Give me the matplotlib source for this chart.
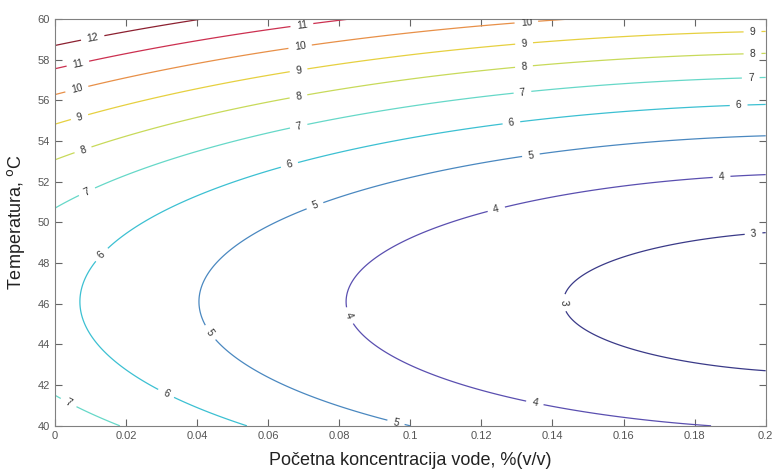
import numpy as np
import matplotlib
matplotlib.use("Agg")
import matplotlib.pyplot as plt

# Response-surface model:
# f(x, T) = c0 + c1*x + c2*x^2 + cT*(T - T0)^2
coef_x = [6.2305, -33.46, 76.06]
coef_T = 0.0364
T_center = 46.1

levels = [3, 4, 5, 6, 7, 8, 9, 10, 11, 12]
level_colors = ['#3a3a88', '#5a4fb0', '#4a88c0', '#3cc0d2', '#66d8c8',
                '#c8da5a', '#e6d040', '#e89048', '#cc3050', '#8c2030']

x_range = [0.0, 0.2]
T_range = [40.0, 60.0]
x_ticks = [0, 0.02, 0.04, 0.06, 0.08, 0.1, 0.12, 0.14, 0.16, 0.18, 0.2]
x_ticklabels = ['0', '0.02', '0.04', '0.06', '0.08', '0.1', '0.12', '0.14', '0.16', '0.18', '0.2']
T_ticks = [40, 42, 44, 46, 48, 50, 52, 54, 56, 58, 60]

label_pos = [(0.0107, 58.97), (0.0065, 57.74), (0.0062, 56.5), (0.007, 55.1),
             (0.008, 53.5), (0.009, 51.5), (0.0135, 48.35), (0.031, 41.5),
             (0.0037, 41.1), (0.043, 44.5), (0.096, 40.2), (0.082, 45.35),
             (0.1426, 46.04), (0.1966, 49.4), (0.135, 41.1), (0.1876, 52.2),
             (0.1243, 50.56), (0.0734, 50.7), (0.134, 53.2), (0.066, 52.8),
             (0.1285, 54.8), (0.1924, 55.7), (0.0686, 54.7), (0.1316, 56.3),
             (0.1958, 57.05), (0.0686, 56.1), (0.132, 57.6), (0.1963, 58.2),
             (0.0686, 57.4), (0.132, 58.8), (0.1963, 59.3), (0.069, 58.6),
             (0.1327, 59.7), (0.0695, 59.65)]

plt.rcParams['font.family'] = ['Liberation Sans', 'DejaVu Sans']

xs = np.linspace(x_range[0], x_range[1], 400)
Ts = np.linspace(T_range[0], T_range[1], 400)
X, T = np.meshgrid(xs, Ts)
Z = coef_x[0] + coef_x[1] * X + coef_x[2] * X**2 + coef_T * (T - T_center)**2

fig = plt.figure(figsize=(7.75, 4.7), dpi=100)
ax = fig.add_axes([0.071, 0.094, 0.917, 0.866])
cs = ax.contour(X, T, Z, levels=levels, colors=level_colors, linewidths=0.9)
ax.clabel(cs, fmt='%d', fontsize=7.5, colors='#333333', inline=True,
          inline_spacing=6, manual=label_pos)

ax.set_xlim(x_range)
ax.set_ylim(T_range)
ax.set_xticks(x_ticks)
ax.set_xticklabels(x_ticklabels)
ax.set_yticks(T_ticks)
ax.tick_params(direction='in', top=True, right=True, labelsize=8,
               labelcolor='#555555', color='#666666', length=5, width=0.8)
for s in ax.spines.values():
    s.set_color('#808080')
ax.set_xlabel('Početna koncentracija vode, %(v/v)', fontsize=13, color='#222222', labelpad=8)
ax.set_ylabel('Temperatura, $^{\\mathrm{o}}$C', fontsize=13, color='#222222', labelpad=8)

fig.savefig('out.png', dpi=100)
